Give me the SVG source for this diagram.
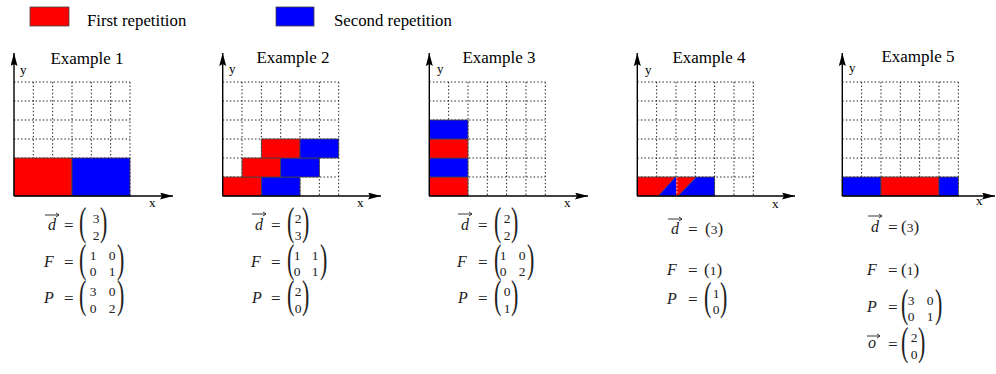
<svg xmlns="http://www.w3.org/2000/svg" width="996" height="374" viewBox="0 0 996 374">
<style>
text{font-family:"Liberation Serif","Times New Roman",Tinos,"DejaVu Serif",serif}
.t{font-size:16.8px;fill:#000}
.tt{font-size:17px;fill:#000;text-anchor:middle}
.ax{font-size:13px;fill:#000}
.grid{fill:none;stroke:#000;stroke-width:0.9;stroke-dasharray:1.4 2.2}
.axis{fill:none;stroke:#000;stroke-width:1.4;marker-end:url(#arr)}
.r{fill:#ff0000;stroke:#444;stroke-width:0.8}
.b{fill:#0000ff;stroke:#444;stroke-width:0.8}
.rn{fill:#ff0000;stroke:none}
.bn{fill:#0000ff;stroke:none}
.ol{fill:none;stroke:#444;stroke-width:0.8}
.n{font-size:13.5px;fill:#222;text-anchor:middle}
.v{font-size:16px;font-style:italic;fill:#222}
.e{font-size:17px;fill:#222}
.bp{font-size:38px;fill:#222}
.sp{font-size:17px;fill:#222}
.vec{fill:none;stroke:#222;stroke-width:0.9}
</style>
<defs>
<marker id="arr" markerUnits="userSpaceOnUse" markerWidth="14" markerHeight="8" refX="13" refY="3.5" orient="auto">
<path d="M0,0 L13,3.5 L0,7 L2,3.5 Z" fill="#000"/>
</marker>
<path id="grid" class="grid" d="M19.33,82V196M38.67,82V196M58,82V196M77.33,82V196M96.67,82V196M116,82V196M0,82H116M0,101H116M0,120H116M0,139H116M0,158H116M0,177H116"/>
</defs>

<g id="legend">
<rect class="r" x="30" y="7" width="39" height="19"/>
<text class="t" x="87" y="26">First repetition</text>
<rect class="b" x="276" y="7" width="38" height="19"/>
<text class="t" x="334" y="26">Second repetition</text>
</g>

<g id="example1">
<text class="tt" x="87" y="64">Example 1</text>
<use href="#grid" x="14"/>
<rect class="r" x="14" y="158" width="58" height="38"/>
<rect class="b" x="72" y="158" width="58" height="38"/>
<path class="axis" d="M14,196V53"/>
<path class="axis" d="M14,196H173"/>
<text class="ax" x="20" y="74">y</text>
<text class="ax" x="149" y="207">x</text>
<path class="vec" d="M45,215H59M56,213L59,215L56,217"/>
<text class="v" x="48" y="230">d</text>
<text class="e" x="64" y="231">=</text>
<text class="bp" transform="translate(79,235) scale(0.58,1.04)">(</text>
<text class="n" x="96" y="223">3</text>
<text class="n" x="96" y="239.5">2</text>
<text class="bp" transform="translate(100,235) scale(0.58,1.04)">)</text>
<text class="v" x="44" y="267">F</text>
<text class="e" x="64" y="268">=</text>
<text class="bp" transform="translate(79,271.5) scale(0.58,1.04)">(</text>
<text class="n" x="93" y="259.5">1</text>
<text class="n" x="112" y="259.5">0</text>
<text class="n" x="93" y="276">0</text>
<text class="n" x="112" y="276">1</text>
<text class="bp" transform="translate(117,271.5) scale(0.58,1.04)">)</text>
<text class="v" x="44" y="303">P</text>
<text class="e" x="64" y="304">=</text>
<text class="bp" transform="translate(79,308) scale(0.58,1.04)">(</text>
<text class="n" x="93" y="296">3</text>
<text class="n" x="112" y="296">0</text>
<text class="n" x="93" y="312.5">0</text>
<text class="n" x="112" y="312.5">2</text>
<text class="bp" transform="translate(117,308) scale(0.58,1.04)">)</text>
</g>

<g id="example2">
<text class="tt" x="293" y="63">Example 2</text>
<use href="#grid" x="222.7"/>
<rect class="r" x="222.7" y="177" width="38.67" height="19"/>
<rect class="b" x="261.37" y="177" width="38.67" height="19"/>
<rect class="r" x="242.03" y="158" width="38.67" height="19"/>
<rect class="b" x="280.7" y="158" width="38.67" height="19"/>
<rect class="r" x="261.37" y="139" width="38.67" height="19"/>
<rect class="b" x="300.03" y="139" width="38.67" height="19"/>
<path class="axis" d="M222.7,196V53"/>
<path class="axis" d="M222.7,196H381"/>
<text class="ax" x="229" y="73">y</text>
<text class="ax" x="357" y="207">x</text>
<path class="vec" d="M252,214H266M263,212L266,214L263,216"/>
<text class="v" x="255" y="230">d</text>
<text class="e" x="271" y="231">=</text>
<text class="bp" transform="translate(287,235) scale(0.58,1.04)">(</text>
<text class="n" x="298" y="223">2</text>
<text class="n" x="298" y="239.5">3</text>
<text class="bp" transform="translate(302,235) scale(0.58,1.04)">)</text>
<text class="v" x="251" y="267">F</text>
<text class="e" x="271" y="268">=</text>
<text class="bp" transform="translate(287,271.5) scale(0.58,1.04)">(</text>
<text class="n" x="297" y="259.5">1</text>
<text class="n" x="315" y="259.5">1</text>
<text class="n" x="297" y="276">0</text>
<text class="n" x="315" y="276">1</text>
<text class="bp" transform="translate(320,271.5) scale(0.58,1.04)">)</text>
<text class="v" x="252" y="303">P</text>
<text class="e" x="271" y="304">=</text>
<text class="bp" transform="translate(287,308) scale(0.58,1.04)">(</text>
<text class="n" x="298" y="296">2</text>
<text class="n" x="298" y="312.5">0</text>
<text class="bp" transform="translate(302,308) scale(0.58,1.04)">)</text>
</g>

<g id="example3">
<text class="tt" x="499" y="63">Example 3</text>
<use href="#grid" x="429.3"/>
<rect class="r" x="429.3" y="177" width="38.67" height="19"/>
<rect class="b" x="429.3" y="158" width="38.67" height="19"/>
<rect class="r" x="429.3" y="139" width="38.67" height="19"/>
<rect class="b" x="429.3" y="120" width="38.67" height="19"/>
<path class="axis" d="M429.3,196V53"/>
<path class="axis" d="M429.3,196H588"/>
<text class="ax" x="437" y="73">y</text>
<text class="ax" x="564" y="207">x</text>
<path class="vec" d="M458,214H472M469,212L472,214L469,216"/>
<text class="v" x="461" y="230">d</text>
<text class="e" x="478" y="231">=</text>
<text class="bp" transform="translate(494,235) scale(0.58,1.04)">(</text>
<text class="n" x="507" y="223">2</text>
<text class="n" x="507" y="239.5">2</text>
<text class="bp" transform="translate(511,235) scale(0.58,1.04)">)</text>
<text class="v" x="457" y="267">F</text>
<text class="e" x="478" y="268">=</text>
<text class="bp" transform="translate(494,271.5) scale(0.58,1.04)">(</text>
<text class="n" x="503" y="259.5">1</text>
<text class="n" x="522" y="259.5">0</text>
<text class="n" x="503" y="276">0</text>
<text class="n" x="522" y="276">2</text>
<text class="bp" transform="translate(527,271.5) scale(0.58,1.04)">)</text>
<text class="v" x="458" y="303">P</text>
<text class="e" x="478" y="304">=</text>
<text class="bp" transform="translate(494,308) scale(0.58,1.04)">(</text>
<text class="n" x="507" y="296">0</text>
<text class="n" x="507" y="312.5">1</text>
<text class="bp" transform="translate(511,308) scale(0.58,1.04)">)</text>
</g>

<g id="example4">
<text class="tt" x="709" y="63">Example 4</text>
<use href="#grid" x="637.3"/>
<polygon class="rn" points="637.3,177 675.3,177 658.3,196 637.3,196"/>
<polygon class="bn" points="658.3,196 675.3,177 676.3,177 676.3,196"/>
<polygon class="rn" points="676.3,177 696.3,177 678,196 676.3,196"/>
<polygon class="bn" points="678,196 696.3,177 714.6,177 714.6,196"/>
<path class="ol" d="M658.3,196L675.3,177M678,196L696.3,177"/>
<path d="M677,177V196" fill="none" stroke="#fff" stroke-width="0.9" stroke-dasharray="1.4 2.2"/>
<rect class="ol" x="637.3" y="177" width="77.3" height="19"/>
<path class="axis" d="M637.3,196V53"/>
<path class="axis" d="M637.3,196H795"/>
<text class="ax" x="645" y="74">y</text>
<text class="ax" x="772" y="208">x</text>
<path class="vec" d="M668,219H682M679,217L682,219L679,221"/>
<text class="v" x="671" y="234">d</text>
<text class="e" x="688" y="235">=</text>
<text class="sp" x="705" y="234">(<tspan style="font-size:13.5px">3</tspan>)</text>
<text class="v" x="667" y="275">F</text>
<text class="e" x="688" y="276">=</text>
<text class="sp" x="704" y="275">(<tspan style="font-size:13.5px">1</tspan>)</text>
<text class="v" x="667" y="304">P</text>
<text class="e" x="688" y="305">=</text>
<text class="bp" transform="translate(704,309.5) scale(0.58,1.04)">(</text>
<text class="n" x="716" y="297.5">1</text>
<text class="n" x="716" y="314">0</text>
<text class="bp" transform="translate(720,309.5) scale(0.58,1.04)">)</text>
</g>

<g id="example5">
<text class="tt" x="918" y="62">Example 5</text>
<use href="#grid" x="842.3"/>
<rect class="b" x="842.3" y="177" width="38.67" height="19"/>
<rect class="r" x="880.97" y="177" width="58" height="19"/>
<rect class="b" x="938.97" y="177" width="19.33" height="19"/>
<path class="axis" d="M842.3,196V53"/>
<path class="axis" d="M842.3,196H995"/>
<text class="ax" x="849" y="72">y</text>
<text class="ax" x="976" y="205">x</text>
<path class="vec" d="M868,216H882M879,214L882,216L879,218"/>
<text class="v" x="871" y="232">d</text>
<text class="e" x="888" y="233">=</text>
<text class="sp" x="901" y="232">(<tspan style="font-size:13.5px">3</tspan>)</text>
<text class="v" x="867" y="275">F</text>
<text class="e" x="888" y="276">=</text>
<text class="sp" x="901" y="275">(<tspan style="font-size:13.5px">1</tspan>)</text>
<text class="v" x="867" y="311.5">P</text>
<text class="e" x="888" y="312.5">=</text>
<text class="bp" transform="translate(901,317) scale(0.58,1.04)">(</text>
<text class="n" x="911" y="304.5">3</text>
<text class="n" x="930" y="304.5">0</text>
<text class="n" x="911" y="321">0</text>
<text class="n" x="930" y="321">1</text>
<text class="bp" transform="translate(935,317) scale(0.58,1.04)">)</text>
<path class="vec" d="M867,336H880M877,334L880,336L877,338"/>
<text class="v" x="868" y="348">o</text>
<text class="e" x="888" y="350">=</text>
<text class="bp" transform="translate(901,354.5) scale(0.58,1.04)">(</text>
<text class="n" x="914" y="342">2</text>
<text class="n" x="914" y="358.5">0</text>
<text class="bp" transform="translate(918,354.5) scale(0.58,1.04)">)</text>
</g>
</svg>
